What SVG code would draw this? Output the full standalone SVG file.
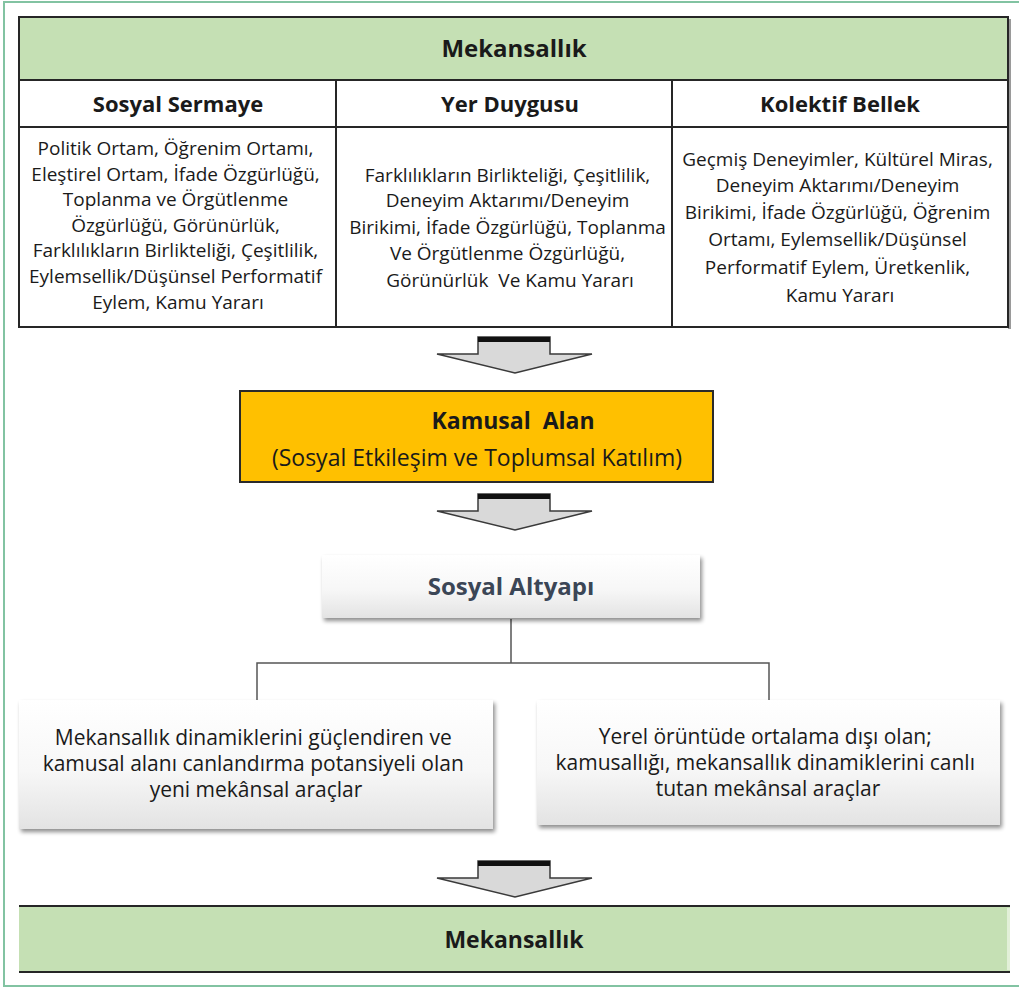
<svg xmlns="http://www.w3.org/2000/svg" width="1019" height="988" viewBox="0 0 1019 988">
<defs>
<style>
.t{font-family:"Open Sans","Liberation Sans",sans-serif;fill:#1a1a1a;text-anchor:middle}
.b{font-weight:bold}
.body{font-size:19px}
.box{font-size:21px}
.hd{font-size:22px;font-weight:bold}
.ln{stroke:#262626;stroke-width:2;fill:none}
.con{stroke:#555;stroke-width:1.5;fill:none}
.arr{fill:#d9d9d9;stroke:#3a3a3a;stroke-width:1.5}
</style>
<linearGradient id="gw" x1="0" y1="0" x2="0" y2="1">
<stop offset="0" stop-color="#ffffff"/>
<stop offset="0.55" stop-color="#f7f7f7"/>
<stop offset="1" stop-color="#e3e3e3"/>
</linearGradient>
<filter id="sh" x="-5%" y="-10%" width="112%" height="130%">
<feGaussianBlur in="SourceAlpha" stdDeviation="2"/>
<feOffset dx="2" dy="3" result="o"/>
<feComponentTransfer><feFuncA type="linear" slope="0.45"/></feComponentTransfer>
<feMerge><feMergeNode/><feMergeNode in="SourceGraphic"/></feMerge>
</filter>
<g id="arrow">
<polygon class="arr" points="478,0 550,0 550,17 592,17 515,36 437,17 478,17"/>
<rect x="478" y="0" width="72" height="5" fill="#111"/>
</g>
</defs>
<rect width="1019" height="988" fill="#ffffff"/>
<rect x="4" y="2" width="1030" height="984" fill="none" stroke="#82c3a2" stroke-width="2"/>

<g id="table">
<rect x="1008" y="19" width="3" height="310" fill="#9a9a9a"/>
<rect x="19" y="17" width="989" height="63" fill="#c5e0b4"/>
<rect x="19" y="80" width="989" height="247" fill="#ffffff"/>
<rect x="19" y="17" width="989" height="310" class="ln"/>
<line x1="19" y1="80" x2="1008" y2="80" class="ln"/>
<line x1="19" y1="127" x2="1008" y2="127" class="ln"/>
<line x1="336" y1="80" x2="336" y2="327" class="ln"/>
<line x1="672" y1="80" x2="672" y2="327" class="ln"/>
<g id="top-mekansallik"><text class="t b" x="514" y="57" font-size="24">Mekansallık</text></g>
<g id="sosyal-sermaye">
<text class="t hd" x="178" y="112">Sosyal Sermaye</text>
<text class="t body">
<tspan x="178" y="155">Politik Ortam, Öğrenim Ortamı,</tspan>
<tspan x="178" y="181">Eleştirel Ortam, İfade Özgürlüğü,</tspan>
<tspan x="178" y="206">Toplanma ve Örgütlenme</tspan>
<tspan x="178" y="232">Özgürlüğü, Görünürlük,</tspan>
<tspan x="178" y="257">Farklılıkların Birlikteliği, Çeşitlilik,</tspan>
<tspan x="178" y="283">Eylemsellik/Düşünsel Performatif</tspan>
<tspan x="178" y="309">Eylem, Kamu Yararı</tspan>
</text>
</g>
<g id="yer-duygusu">
<text class="t hd" x="510" y="112">Yer Duygusu</text>
<text class="t body">
<tspan x="510" y="182">Farklılıkların Birlikteliği, Çeşitlilik,</tspan>
<tspan x="510" y="207">Deneyim Aktarımı/Deneyim</tspan>
<tspan x="510" y="234">Birikimi, İfade Özgürlüğü, Toplanma</tspan>
<tspan x="510" y="260">Ve Örgütlenme Özgürlüğü,</tspan>
<tspan x="510" y="287" xml:space="preserve">Görünürlük  Ve Kamu Yararı</tspan>
</text>
</g>
<g id="kolektif-bellek">
<text class="t hd" x="840" y="112">Kolektif Bellek</text>
<text class="t body">
<tspan x="840" y="166">Geçmiş Deneyimler, Kültürel Miras,</tspan>
<tspan x="840" y="192">Deneyim Aktarımı/Deneyim</tspan>
<tspan x="840" y="219">Birikimi, İfade Özgürlüğü, Öğrenim</tspan>
<tspan x="840" y="246">Ortamı, Eylemsellik/Düşünsel</tspan>
<tspan x="840" y="274">Performatif Eylem, Üretkenlik,</tspan>
<tspan x="840" y="302">Kamu Yararı</tspan>
</text>
</g>
</g>

<g id="connectors">
<use href="#arrow" y="337"/>
<use href="#arrow" y="494"/>
<use href="#arrow" y="861"/>
<polyline class="con" points="511,619 511,663"/>
<polyline class="con" points="257,700 257,663 769,663 769,700"/>
</g>

<g id="kamusal-alan">
<rect x="240" y="391" width="473" height="91" fill="#ffc000" stroke="#2a2a2a" stroke-width="2"/>
<text class="t b" x="513" y="429" font-size="23" xml:space="preserve">Kamusal  Alan</text>
<text class="t" x="477" y="466" font-size="23">(Sosyal Etkileşim ve Toplumsal Katılım)</text>
</g>

<g id="sosyal-altyapi">
<rect x="322" y="555" width="378" height="63" fill="url(#gw)" filter="url(#sh)"/>
<text class="t b" x="511" y="595" font-size="24" style="fill:#3b4656">Sosyal Altyapı</text>
</g>

<g id="yeni-araclar">
<rect x="19" y="700" width="474" height="129" fill="url(#gw)" filter="url(#sh)"/>
<text class="t box">
<tspan x="256" y="745">Mekansallık dinamiklerini güçlendiren ve</tspan>
<tspan x="256" y="771">kamusal alanı canlandırma potansiyeli olan</tspan>
<tspan x="256" y="797">yeni mekânsal araçlar</tspan>
</text>
</g>

<g id="mevcut-araclar">
<rect x="537" y="700" width="463" height="125" fill="url(#gw)" filter="url(#sh)"/>
<text class="t box">
<tspan x="768" y="744">Yerel örüntüde ortalama dışı olan;</tspan>
<tspan x="768" y="770">kamusallığı, mekansallık dinamiklerini canlı</tspan>
<tspan x="768" y="796">tutan mekânsal araçlar</tspan>
</text>
</g>

<g id="bottom-mekansallik">
<rect x="19" y="906" width="991" height="66" fill="#c5e0b4"/>
<rect x="1007" y="908" width="3" height="62" fill="#e2f0d8"/>
<line x1="19" y1="906" x2="1010" y2="906" class="ln"/>
<line x1="19" y1="972" x2="1010" y2="972" class="ln"/>
<text class="t b" x="514" y="948" font-size="23">Mekansallık</text>
</g>
</svg>
